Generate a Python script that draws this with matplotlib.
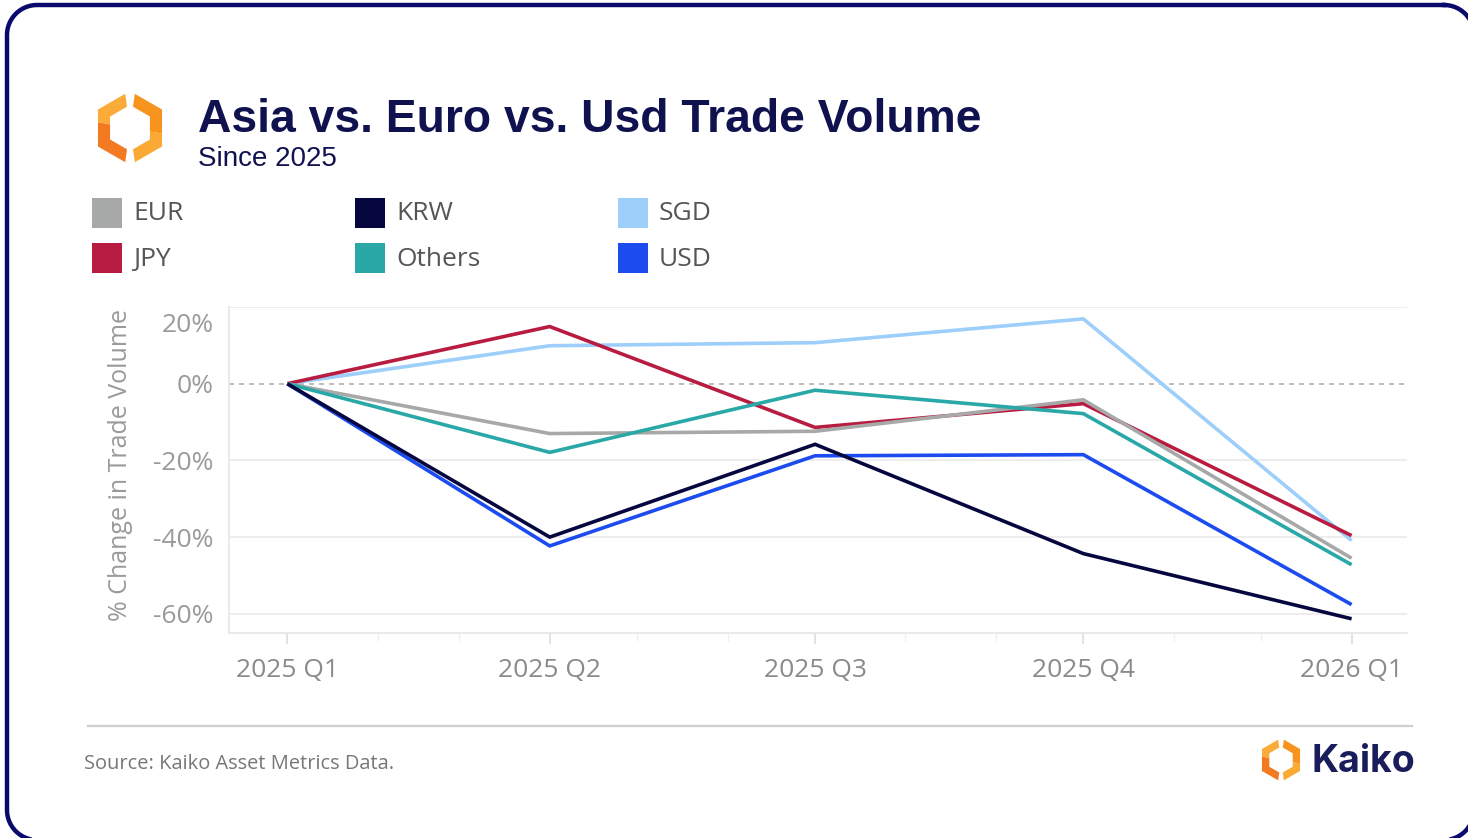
import matplotlib
matplotlib.use("Agg")
import matplotlib.pyplot as plt
import matplotlib.dates as mdates
from matplotlib.patches import Rectangle, Polygon
from matplotlib.transforms import ScaledTranslation
from matplotlib.ticker import FixedLocator, FixedFormatter, FuncFormatter
import numpy as np
import pandas as pd

# ---------------- data ----------------
quarters = ["2025-01-01", "2025-04-01", "2025-07-01", "2025-10-01", "2026-01-01"]
quarter_labels = ["2025 Q1", "2025 Q2", "2025 Q3", "2025 Q4", "2026 Q1"]
series_names = ["EUR", "JPY", "KRW", "Others", "SGD", "USD"]
eur = [0, -13.0, -12.4, -4.2, -45.5]
jpy = [0, 14.9, -11.4, -5.2, -39.6]
krw = [0, -40.0, -15.8, -44.3, -61.3]
others = [0, -17.9, -1.7, -7.8, -47.2]
sgd = [0, 9.9, 10.7, 16.9, -40.9]
usd = [0, -42.3, -18.8, -18.5, -57.6]
y_ticks = [-60, -40, -20, 0, 20]

colors = {"EUR": "#a7a9a9", "JPY": "#b81c40", "KRW": "#07073f",
          "Others": "#2aa7a7", "SGD": "#9dcffa", "USD": "#1c4cf0"}
values = {"EUR": eur, "JPY": jpy, "KRW": krw, "Others": others, "SGD": sgd, "USD": usd}
draw_order = ["SGD", "USD", "JPY", "EUR", "Others", "KRW"]

W, H = 1468, 838
fig = plt.figure(figsize=(W / 100, H / 100), dpi=100)
fig.patch.set_facecolor("white")

def px(x, y):
    return (x / W, 1 - y / H)

# rounded navy border drawn as a path in pixel space
def rounded_rect(x0, y0, x1, y1, r, n=20):
    pts = []
    corners = [(x1 - r, y0 + r, 90, 0), (x1 - r, y1 - r, 0, -90),
               (x0 + r, y1 - r, -90, -180), (x0 + r, y0 + r, 180, 90)]
    for cx, cy, a0, a1 in corners:
        for a in np.linspace(np.deg2rad(a0), np.deg2rad(a1), n):
            pts.append((cx + r * np.cos(a), cy - r * np.sin(a)))
    pts.append(pts[0])
    return pts

bpts = rounded_rect(7, 5, 1474, 840, 30)
fig.add_artist(plt.Line2D([p[0] / W for p in bpts], [1 - p[1] / H for p in bpts],
                          transform=fig.transFigure, color="#0a0a6e", linewidth=3.2,
                          solid_joinstyle="round", clip_on=False))

# logo helper
def hex_logo(cx, cy, R, r):
    def pt(rad, ang):
        a = np.deg2rad(ang)
        sector = ((ang - 90) % 60) - 30
        d = rad * np.cos(np.deg2rad(30)) / np.cos(np.deg2rad(sector))
        return (cx + d * np.cos(a), cy - d * np.sin(a))
    def piece(a0, a1, col):
        verts_ang = [a for a in [90, 150, 210, 270, 330, 390, 450] if a0 < a < a1]
        angs = sorted(set([a0, a1] + verts_ang))
        outer = [pt(R, a) for a in angs]
        inner = [pt(r, a) for a in angs[::-1]]
        pts = [px(x, y) for x, y in outer + inner]
        fig.patches.append(Polygon(pts, closed=True, transform=fig.transFigure,
                                   facecolor=col, edgecolor="none"))
    piece(98, 170, "#fbac38")
    piece(170, 262, "#f47a21")
    piece(278, 350, "#fba935")
    piece(350, 442, "#f7941d")

hex_logo(130, 128, 37, 23)
hex_logo(1281, 760, 22, 13.5)

# title / subtitle
fig.text(*px(198, 132), "Asia vs. Euro vs. Usd Trade Volume", fontsize=33.3,
         fontweight="bold", color="#10124f", family="Liberation Sans", va="baseline")
fig.text(*px(198, 166), "Since 2025", fontsize=20, color="#10124f",
         family="Liberation Sans", va="baseline")

# legend (manual grid)
leg_cols_x = [92, 355, 618]
leg_rows_y = [213, 258]
for i, name in enumerate(series_names):
    cx = leg_cols_x[i // 2]
    cy = leg_rows_y[i % 2]
    fig.patches.append(Rectangle(px(cx, cy + 15), 30 / W, 30 / H,
                                 transform=fig.transFigure, facecolor=colors[name],
                                 edgecolor="none"))
    fig.text(*px(cx + 41, cy + 1), name, fontsize=19, color="#555555",
             family="Open Sans", va="center", ha="left")

# main axes
ax = fig.add_axes([229 / W, 1 - 633 / H, (1407 - 229) / W, (633 - 307) / H])
dates = pd.to_datetime(quarters)
for name in draw_order:
    ax.plot(dates, values[name], color=colors[name], linewidth=2.6,
            solid_joinstyle="miter", solid_capstyle="butt", zorder=3)

ax.set_xlim(pd.Timestamp("2024-12-12"), pd.Timestamp("2026-01-20"))
ax.set_ylim(-65, 20)
ax.set_yticks(y_ticks)
ax.yaxis.set_major_formatter(FuncFormatter(lambda v, p: f"{int(v)}%"))
ax.xaxis.set_major_locator(FixedLocator(mdates.date2num(dates)))
ax.xaxis.set_major_formatter(FixedFormatter(quarter_labels))
ax.xaxis.set_minor_locator(mdates.MonthLocator())

for yv in y_ticks:
    if yv == 0:
        ax.axhline(yv, color="#b0b0b0", linewidth=1.2, linestyle=(0, (3, 3)), zorder=1)
    else:
        ax.axhline(yv, color="#ececec", linewidth=1.3, zorder=1)

for s in ["top", "right"]:
    ax.spines[s].set_visible(False)
for s in ["left", "bottom"]:
    ax.spines[s].set_color("#e8e8e8")
    ax.spines[s].set_linewidth(1.3)

ax.tick_params(axis="y", length=0, pad=11, labelsize=19, labelcolor="#9a9a9a")
ax.tick_params(axis="x", which="major", length=8, color="#dddddd", width=1.2,
               pad=10, labelsize=19, labelcolor="#8a8a8a")
ax.tick_params(axis="x", which="minor", length=6, color="#f0f0f0", width=1)
for lab in ax.get_xticklabels() + ax.get_yticklabels():
    lab.set_family("Open Sans")

ax.set_ylabel("% Change in Trade Volume", fontsize=18, color="#9a9a9a",
              family="Open Sans")
ax.yaxis.set_label_coords((133 - 229) / (1407 - 229), (633 - 465) / (633 - 307))

# shift the top (20%) label down inside
fig.canvas.draw()
for t in ax.yaxis.get_major_ticks():
    if abs(t.get_loc() - 20) < 1e-6:
        t.label1.set_transform(t.label1.get_transform() +
                               ScaledTranslation(0, -0.15, fig.dpi_scale_trans))

# footer
fig.add_artist(plt.Line2D([88 / W, 1412 / W], [1 - 726 / H, 1 - 726 / H],
                          transform=fig.transFigure, color="#cfcfcf", linewidth=1.6))
fig.text(*px(84, 764), "Source: Kaiko Asset Metrics Data.", fontsize=14.4,
         color="#777777", family="Open Sans", va="center")
fig.text(*px(1312, 762), "Kaiko", fontsize=27, fontweight="bold", color="#1a1d5c",
         family="Inter", va="center", ha="left")

fig.savefig("out.png", dpi=100, facecolor="white")
